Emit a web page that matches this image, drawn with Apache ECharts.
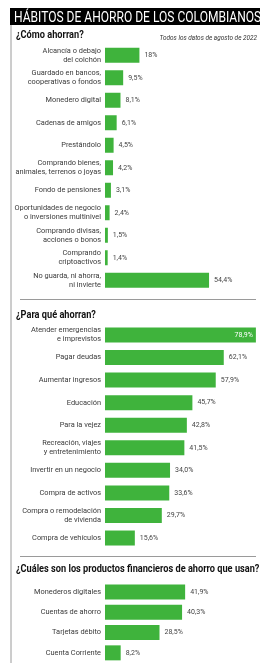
<!DOCTYPE html>
<html>
<head>
<meta charset="utf-8">
<script src="https://cdn.jsdelivr.net/npm/echarts@6/dist/echarts.min.js"></script>
<style>
  html, body { margin: 0; padding: 0; background: #fff; }
  #chart { width: 260px; height: 663px; }
</style>
</head>
<body>
<div id="chart"></div>
<script>
// ¿Cómo ahorran?
const comoCategorias = [
  'Alcancía o debajo\ndel colchón',
  'Guardado en bancos,\ncooperativas o fondos',
  'Monedero digital',
  'Cadenas de amigos',
  'Prestándolo',
  'Comprando bienes,\nanimales, terrenos o joyas',
  'Fondo de pensiones',
  'Oportunidades de negocio\no inversiones multinivel',
  'Comprando divisas,\nacciones o bonos',
  'Comprando\ncriptoactivos',
  'No guarda, ni ahorra,\nni invierte'
]
const comoValores = ['18', '9.5', '8.1', '6.1', '4.5', '4.2', '3.1', '2.4', '1.5', '1.4', '54.4']

// ¿Para qué ahorran?
const paraCategorias = [
  'Atender emergencias\ne imprevistos',
  'Pagar deudas',
  'Aumentar ingresos',
  'Educación',
  'Para la vejez',
  'Recreación, viajes\ny entretenimiento',
  'Invertir en un negocio',
  'Compra de activos',
  'Compra o remodelación\nde vivienda',
  'Compra de vehículos'
]
const paraValores = ['78.9', '62.1', '57.9', '45.7', '42.8', '41.5', '34.0', '33.6', '29.7', '15.6']

// ¿Cuáles son los productos financieros de ahorro que usan?
const productosCategorias = ['Monederos digitales', 'Cuentas de ahorro', 'Tarjetas débito', 'Cuenta Corriente']
const productosValores = ['41.9', '40.3', '28.5', '8.2']

const verde = '#3fb33c'
const fuente = 'Roboto'

const chart = echarts.init(document.getElementById('chart'))

// formato "9,5%"
const formatoValor = p => {
  const raw = (p.data && typeof p.data === 'object') ? p.data.value : p.data
  return String(raw).replace('.', ',') + '%'
}

// la barra más larga lleva la etiqueta adentro, en blanco
const armarDatos = valores => valores.map(v => Number(v) > 70
  ? { value: v, label: { position: 'insideRight', color: '#fff', distance: 3 } }
  : v)

const grids = [
  { left: 105, width: 153, top: 44, height: 247.5 },
  { left: 105, width: 153, top: 323.7, height: 225.6 },
  { left: 105, width: 153, top: 581.8, height: 90 }
]

const xAxes = grids.map((g, i) => ({
  gridIndex: i, type: 'value', min: 0, max: 80, show: false
}))

const cats = [comoCategorias, paraCategorias, productosCategorias]
const yAxes = cats.map((c, i) => ({
  gridIndex: i,
  type: 'category',
  inverse: true,
  data: c,
  axisLine: { show: false },
  axisTick: { show: false },
  axisLabel: {
    fontFamily: fuente,
    fontSize: 7.4,
    lineHeight: 9,
    color: '#3a3a3a',
    margin: 4
  }
}))

const vals = [comoValores, paraValores, productosValores]
const series = vals.map((v, i) => ({
  type: 'bar',
  xAxisIndex: i,
  yAxisIndex: i,
  data: armarDatos(v),
  barWidth: 15,
  itemStyle: { color: verde },
  label: {
    show: true,
    position: 'right',
    distance: 5,
    fontFamily: fuente,
    fontSize: 7,
    color: '#444',
    formatter: formatoValor
  },
  silent: true
}))

// títulos de sección, algo condensados
const seccion = (texto, y) => ({
  type: 'text', x: 16, y: y, scaleX: 0.92,
  style: {
    text: texto, fill: '#111',
    font: 'bold 10px Roboto', textVerticalAlign: 'middle'
  }
})

const option = {
  animation: false,
  backgroundColor: '#fff',
  grid: grids,
  xAxis: xAxes,
  yAxis: yAxes,
  series: series,
  graphic: [
    { type: 'rect', shape: { x: 10, y: 8, width: 250, height: 17 }, style: { fill: '#000' } },
    {
      type: 'text', x: 14, y: 18, scaleX: 0.86,
      style: {
        text: 'HÁBITOS DE AHORRO DE LOS COLOMBIANOS',
        fill: '#fff', font: '14px Roboto', textVerticalAlign: 'middle'
      }
    },
    { type: 'line', shape: { x1: 11, y1: 25, x2: 11, y2: 663 }, style: { stroke: '#9a9a9a', lineWidth: 1 } },
    { type: 'line', shape: { x1: 20, y1: 299.5, x2: 256, y2: 299.5 }, style: { stroke: '#9a9a9a', lineWidth: 1 } },
    { type: 'line', shape: { x1: 20, y1: 556.5, x2: 256, y2: 556.5 }, style: { stroke: '#9a9a9a', lineWidth: 1 } },
    seccion('¿Cómo ahorran?', 35),
    seccion('¿Para qué ahorran?', 315),
    seccion('¿Cuáles son los productos financieros de ahorro que usan?', 569),
    {
      type: 'text', x: 257, y: 38, scaleX: 0.88,
      style: {
        text: 'Todos los datos de agosto de 2022', fill: '#333',
        font: 'italic 7.3px Roboto', textAlign: 'right', textVerticalAlign: 'middle'
      }
    }
  ]
}

chart.setOption(option)
</script>
</body>
</html>
